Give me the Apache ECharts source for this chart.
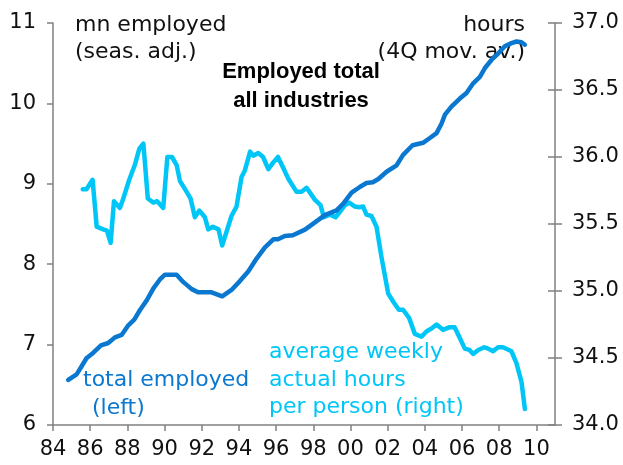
<!DOCTYPE html>
<html>
<head>
<meta charset="utf-8">
<script src="https://cdn.jsdelivr.net/npm/echarts@6/dist/echarts.min.js"></script>
<style>html,body{margin:0;padding:0;background:#fff}#c{width:623px;height:465px}</style>
</head>
<body>
<div id="c"></div>
<script>
// ---- data ----
var xTickYears = [1984,1986,1988,1990,1992,1994,1996,1998,2000,2002,2004,2006,2008,2010];
var leftTicks = [6,7,8,9,10,11];
var rightTicks = [34.0,34.5,35.0,35.5,36.0,36.5,37.0];

var employedYears = [1984.82,1985.27,1985.54,1985.8,1986.17,1986.58,1986.97,1987.33,1987.69,1988.05,1988.37,1988.68,1989.04,1989.4,1989.75,1990.02,1990.65,1991.0,1991.46,1991.8,1992.53,1993.1,1993.6,1994.05,1994.5,1994.95,1995.4,1995.85,1996.1,1996.47,1996.9,1997.55,1998.09,1998.62,1999.25,1999.6,2000.06,2000.5,2000.86,2001.2,2001.5,2001.94,2002.48,2002.83,2003.34,2003.9,2004.27,2004.63,2004.9,2005.08,2005.43,2005.88,2006.24,2006.6,2006.96,2007.23,2007.58,2007.94,2008.3,2008.66,2008.93,2009.2,2009.38];
var employedValues = [6.56,6.63,6.73,6.83,6.90,6.99,7.02,7.09,7.12,7.24,7.31,7.43,7.55,7.70,7.81,7.87,7.87,7.78,7.69,7.65,7.65,7.60,7.68,7.79,7.91,8.07,8.21,8.31,8.31,8.35,8.36,8.43,8.52,8.61,8.67,8.75,8.89,8.96,9.01,9.02,9.06,9.15,9.23,9.36,9.48,9.51,9.57,9.63,9.75,9.86,9.96,10.06,10.13,10.25,10.33,10.44,10.54,10.62,10.71,10.75,10.77,10.76,10.73];

var hoursYears = [1985.6,1985.8,1986.13,1986.35,1986.7,1986.9,1987.1,1987.28,1987.6,1987.78,1988.1,1988.4,1988.64,1988.86,1989.1,1989.4,1989.6,1989.93,1990.15,1990.4,1990.65,1990.83,1991.1,1991.4,1991.63,1991.87,1992.17,1992.35,1992.6,1992.9,1993.1,1993.33,1993.6,1993.87,1994.14,1994.32,1994.6,1994.77,1995.04,1995.3,1995.58,1995.85,1996.1,1996.38,1996.65,1997.1,1997.37,1997.64,1998.09,1998.39,1998.57,1998.89,1999.2,1999.43,1999.7,1999.93,2000.24,2000.47,2000.68,2000.86,2001.13,2001.4,2001.67,2002.03,2002.3,2002.6,2002.83,2003.15,2003.46,2003.82,2004.1,2004.36,2004.63,2004.98,2005.34,2005.6,2005.88,2006.15,2006.4,2006.6,2006.87,2007.2,2007.4,2007.67,2007.94,2008.2,2008.66,2008.93,2009.2,2009.38];
var hoursValues = [35.76,35.76,35.83,35.48,35.46,35.45,35.36,35.67,35.62,35.69,35.83,35.94,36.06,36.10,35.69,35.66,35.67,35.62,36.00,36.00,35.94,35.82,35.76,35.69,35.55,35.60,35.55,35.46,35.48,35.46,35.34,35.44,35.56,35.63,35.85,35.90,36.04,36.01,36.03,36.00,35.91,35.96,36.00,35.92,35.84,35.74,35.74,35.77,35.68,35.64,35.55,35.57,35.55,35.59,35.64,35.66,35.63,35.625,35.63,35.57,35.56,35.48,35.25,34.98,34.92,34.86,34.86,34.80,34.68,34.66,34.70,34.72,34.75,34.71,34.73,34.73,34.65,34.57,34.56,34.53,34.56,34.58,34.57,34.55,34.58,34.58,34.55,34.46,34.32,34.12];

var DARK = '#0a78d0';
var CYAN = '#00c6f8';
var AXIS = '#808080';
var FONT = '"DejaVu Sans", Verdana, sans-serif';

function zip(xs, ys){ return xs.map(function(x,i){ return [x, ys[i]]; }); }

var chart = echarts.init(document.getElementById('c'), null, {renderer:'canvas'});
var labelStyle = {color:'#111', fontSize:21, fontFamily:FONT};
function txt(x, y, s, color, align){
  return {type:'text', x:x, y:y, silent:true,
    style:{text:s, fill:color, font:'22px ' + FONT, textAlign:align||'left', textVerticalAlign:'middle'}};
}
function bold(x, y, s){
  return {type:'text', x:x, y:y, silent:true,
    style:{text:s, fill:'#000', font:'bold 22px "Liberation Sans", Arial, sans-serif', textAlign:'center', textVerticalAlign:'middle'}};
}
chart.setOption({
  animation:false,
  grid:{left:53, right:68, top:23, bottom:40, containLabel:false},
  xAxis:{type:'value', min:1984, max:2011, interval:2,
    axisLine:{lineStyle:{color:AXIS, width:1.5}},
    axisTick:{length:6, lineStyle:{color:AXIS, width:1.5}, customValues:xTickYears},
    axisLabel:Object.assign({margin:14, customValues:xTickYears, formatter:function(v){ return String(v).slice(2); }}, labelStyle),
    splitLine:{show:false}},
  yAxis:[
    {type:'value', min:leftTicks[0], max:leftTicks[leftTicks.length-1], interval:1, position:'left',
     axisLine:{show:true, lineStyle:{color:AXIS, width:1.5}},
     axisTick:{show:true, length:6, lineStyle:{color:AXIS, width:1.5}},
     axisLabel:Object.assign({margin:17}, labelStyle),
     splitLine:{show:false}},
    {type:'value', min:rightTicks[0], max:rightTicks[rightTicks.length-1], interval:0.5, position:'right',
     axisLine:{show:true, lineStyle:{color:AXIS, width:1.5}},
     axisTick:{show:true, length:7, lineStyle:{color:AXIS, width:1.5}},
     axisLabel:Object.assign({margin:17, formatter:function(v){ return v.toFixed(1); }}, labelStyle),
     splitLine:{show:false}},
    {type:'value', min:rightTicks[0], max:rightTicks[rightTicks.length-1], interval:0.5, position:'right',
     axisLine:{show:false},
     axisTick:{show:true, inside:true, length:7, lineStyle:{color:AXIS, width:1.5}},
     axisLabel:{show:false},
     splitLine:{show:false}}
  ],
  series:[
    {name:'total employed', type:'line', yAxisIndex:0, data:zip(employedYears, employedValues),
     showSymbol:false, lineStyle:{color:DARK, width:4.5, cap:'round', join:'round'}, z:3},
    {name:'average weekly actual hours', type:'line', yAxisIndex:1, data:zip(hoursYears, hoursValues),
     showSymbol:false, lineStyle:{color:CYAN, width:4.5, cap:'round', join:'round'}, z:2}
  ],
  graphic:[
    txt(75, 25, 'mn employed', '#111'),
    txt(75, 52, '(seas. adj.)', '#111'),
    txt(525, 25, 'hours', '#111', 'right'),
    txt(525, 52, '(4Q mov. av.)', '#111', 'right'),
    bold(301, 72, 'Employed total'),
    bold(301, 101, 'all industries'),
    txt(83, 380, 'total employed', DARK),
    txt(92, 408, '(left)', DARK),
    txt(269, 352, 'average weekly', CYAN),
    txt(269, 380, 'actual hours', CYAN),
    txt(269, 407, 'per person (right)', CYAN)
  ]
});
</script>
</body>
</html>
